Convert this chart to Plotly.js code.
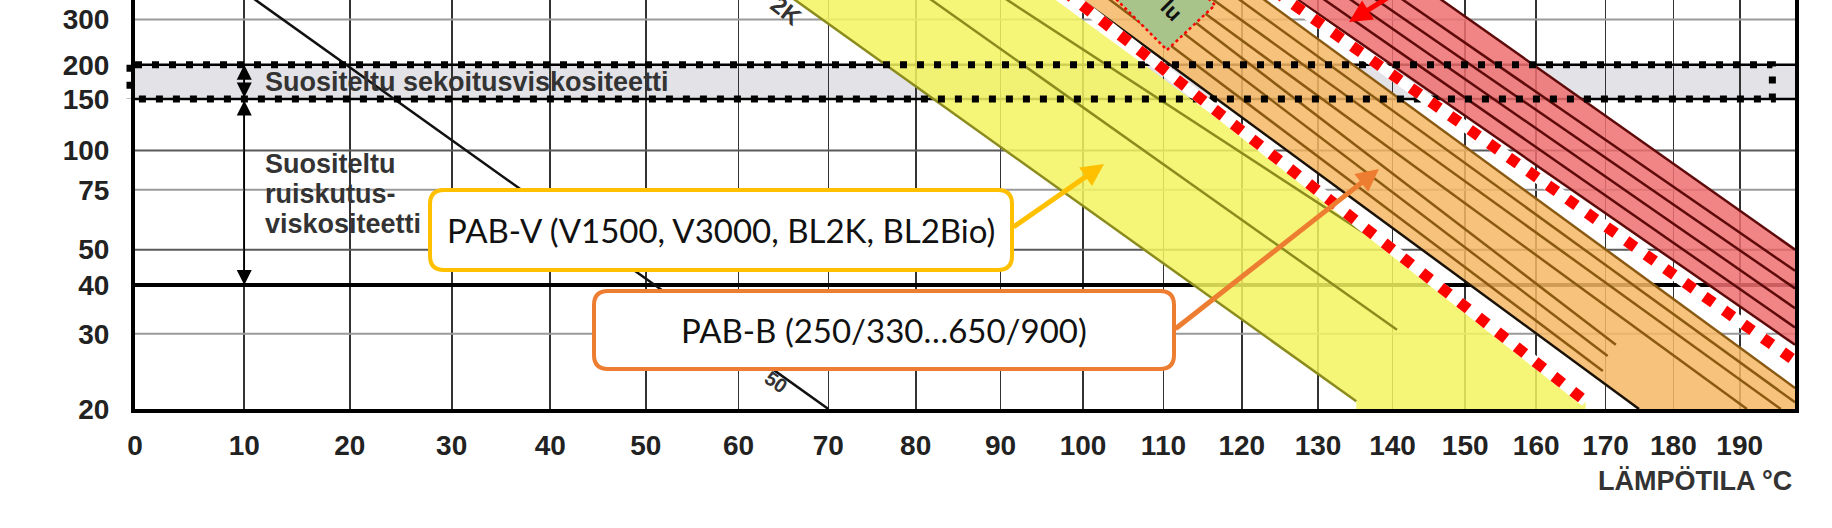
<!DOCTYPE html>
<html><head><meta charset="utf-8">
<script src="https://cdn.plot.ly/plotly-3.0.1.min.js"></script>
<style>
html,body{margin:0;padding:0;background:#fff;overflow:hidden;width:1832px;height:528px}
#chart{position:absolute;left:0;top:-30px;width:1832px;height:558px}
</style></head>
<body><div id="chart"></div>
<script>
// ---------- data: temperature (°C) and viscosity (mm²/s) ----------
const tempTicks = [0,10,20,30,40,50,60,70,80,90,100,110,120,130,140,150,160,170,180,190];
const viscTicks = [20,30,40,50,75,100,150,200,300,400];
const gridLight = [30,75,300];
const gridDark = [50,100];
const mixingBand = [150,200];
const sprayMin = 40;
const tempMin = 0, tempMax = 198.5, viscMin = 20;

// black reference curve
const refLineT = [10,70];
const refLineV = [390,20];

// PAB-V (yellow) band
const pabvFillT = [64.8,135.1,135.1,167.1,167.1,147.6,95.1];
const pabvFillV = [395,20.8,20,20,20.8,39.4,395];
const pabvLinesT = [[64.8,135.1],[80.3,140.6],[89.1,147.6]];
const pabvLinesV = [[395,20.8],[395,30.7],[395,39.4]];

// PAB-B (orange) band
const pabbFillT = [98.3,174.9,198.5,198.5,121.3];
const pabbFillV = [395,20,20,22.3,395];
const pabbEdgeT = [98.3,174.9];
const pabbEdgeV = [395,20];
const pabbLinesT = [[101.8,169.6],[105.5,170.3],[108.8,171.5],[111.3,191.1],[114.7,196.3],[118.1,198.5],[121.3,198.5]];
const pabbLinesV = [[395,24.4],[395,26.5],[395,28.2],[395,20],[395,20],[395,20.7],[395,22.3]];

// red band
const redFillT = [125.6,198.5,198.5,144.9];
const redFillV = [395,28.2,50,395];
const redLinesT = [[125.6,198.5],[129.1,198.5],[132.6,198.5],[136.0,198.5],[139.6,198.5],[144.9,198.5]];
const redLinesV = [[395,28.2],[395,31.1],[395,34.8],[395,39.2],[395,43.7],[395,50]];

// red dotted limit lines
const limitLinesT = [[97.6,167.1],[124.2,198.5]];
const limitLinesV = [[395,20.8],[395,25.8]];

// ---------- scales (Walther chart) ----------
const X = t => Math.log10(t + 273.15);
const Y = v => Math.log10(Math.log10(v + 0.7));

function segs(TT, VV){
  const x=[], y=[];
  TT.forEach((t,i)=>{ t.forEach((tt,j)=>{ x.push(X(tt)); y.push(Y(VV[i][j])); }); x.push(null); y.push(null); });
  return {x, y};
}
function poly(T, V){ return {x:T.map(X), y:V.map(Y)}; }

const traces = [];
function hlines(vals, color, width){
  const x=[], y=[];
  vals.forEach(v=>{ x.push(X(tempMin), X(tempMax), null); y.push(Y(v), Y(v), null); });
  traces.push({type:'scatter', mode:'lines', x, y, line:{color, width}, hoverinfo:'skip'});
}
hlines(gridLight, '#9a9a9a', 2);
hlines(gridDark, '#5a5a5a', 2);
hlines(mixingBand, '#000', 2.5);
hlines([sprayMin], '#000', 4);

const pf = poly(pabvFillT, pabvFillV);
traces.push({type:'scatter', mode:'lines', x:pf.x, y:pf.y, fill:'toself', fillcolor:'rgba(243,243,95,0.85)', line:{width:0}, hoverinfo:'skip'});
const of = poly(pabbFillT, pabbFillV);
traces.push({type:'scatter', mode:'lines', x:of.x, y:of.y, fill:'toself', fillcolor:'rgba(246,183,100,0.85)', line:{width:0}, hoverinfo:'skip'});
const rf = poly(redFillT, redFillV);
traces.push({type:'scatter', mode:'lines', x:rf.x, y:rf.y, fill:'toself', fillcolor:'rgba(238,112,112,0.85)', line:{width:0}, hoverinfo:'skip'});

const rl = poly(refLineT, refLineV);
traces.push({type:'scatter', mode:'lines', x:rl.x, y:rl.y, line:{color:'#111', width:2.5}, hoverinfo:'skip'});

const yl = segs(pabvLinesT, pabvLinesV);
traces.push({type:'scatter', mode:'lines', x:yl.x, y:yl.y, line:{color:'#8c8c1e', width:2.5}, hoverinfo:'skip'});
const ol = segs(pabbLinesT, pabbLinesV);
traces.push({type:'scatter', mode:'lines', x:ol.x, y:ol.y, line:{color:'#8a5a12', width:2.5}, hoverinfo:'skip'});
const oe = poly(pabbEdgeT, pabbEdgeV);
traces.push({type:'scatter', mode:'lines', x:oe.x, y:oe.y, line:{color:'#1a1206', width:2.5}, hoverinfo:'skip'});
const rdl = segs(redLinesT, redLinesV);
traces.push({type:'scatter', mode:'lines', x:rdl.x, y:rdl.y, line:{color:'#5e0a0a', width:2.5}, hoverinfo:'skip'});

traces.push({type:'scatter', mode:'lines',
  x:[X(tempMin), X(195), X(195), X(tempMin)],
  y:[Y(mixingBand[1]), Y(mixingBand[1]), Y(mixingBand[0]), Y(mixingBand[0])],
  line:{color:'#000', width:7, dash:'7px,10px'}, hoverinfo:'skip'});

const dl = segs(limitLinesT, limitLinesV);
traces.push({type:'scatter', mode:'lines', x:dl.x, y:dl.y, line:{color:'#fff', width:11}, hoverinfo:'skip'});
traces.push({type:'scatter', mode:'lines', x:dl.x, y:dl.y, line:{color:'#ff0000', width:11, dash:'11px,13px'}, hoverinfo:'skip'});

// ---------- layout helpers (page pixel -> paper) ----------
const PL=135, PW=1660, PB=409, PH=439;
const px = p => (p-PL)/PW;
const py = p => (PB-p)/PH;
function roundRect(x0,y0,x1,y1,r){
  const a=px(x0), b=px(x1), t=py(y0), u=py(y1), rx=r/PW, ry=r/PH;
  return `M ${a+rx},${t} L ${b-rx},${t} Q ${b},${t} ${b},${t-ry} L ${b},${u+ry} Q ${b},${u} ${b-rx},${u} L ${a+rx},${u} Q ${a},${u} ${a},${u+ry} L ${a},${t-ry} Q ${a},${t} ${a+rx},${t} Z`;
}
const scanFont = {family:'Liberation Sans, Arial, sans-serif', size:27, color:'#333', weight:700};
const boxFont = {family:'Lato, Calibri, sans-serif', size:33, color:'#111'};

const shapes = [
  {type:'rect', xref:'paper', yref:'y', x0:0, x1:1, y0:Y(mixingBand[0]), y1:Y(mixingBand[1]), fillcolor:'#e2e2e7', line:{width:0}, layer:'below'},
  {type:'line', xref:'paper', yref:'paper', x0:px(130), x1:px(130), y0:py(64.7), y1:py(99), line:{color:'#000', width:7, dash:'7px,10px'}, layer:'above'},
  {type:'path', xref:'paper', yref:'paper', path:`M ${px(1167)},${py(50)} L ${px(1215)},${py(5)} L ${px(1163)},${py(-45)} L ${px(1115)},${py(-2)} Z`,
   fillcolor:'#a9c48a', line:{color:'#ff0000', width:2.5, dash:'dot'}, layer:'above'},
  {type:'path', xref:'paper', yref:'paper', path:roundRect(430,190,1012,270,14), fillcolor:'#fff', line:{color:'#FFC000', width:4}, layer:'above'},
  {type:'path', xref:'paper', yref:'paper', path:roundRect(594,291,1174,369,14), fillcolor:'#fff', line:{color:'#ED7D31', width:4}, layer:'above'}
];

const annotations = [
  {xref:'paper', yref:'y', x:px(263), y:(Y(mixingBand[0])+Y(mixingBand[1]))/2, xanchor:'left', yanchor:'middle', text:'Suositeltu sekoitusviskositeetti', showarrow:false, font:scanFont},
  {xref:'paper', yref:'paper', x:px(263), y:py(164), xanchor:'left', yanchor:'middle', text:'Suositeltu', showarrow:false, font:scanFont},
  {xref:'paper', yref:'paper', x:px(263), y:py(194), xanchor:'left', yanchor:'middle', text:'ruiskutus-', showarrow:false, font:scanFont},
  {xref:'paper', yref:'paper', x:px(263), y:py(224), xanchor:'left', yanchor:'middle', text:'viskositeetti', showarrow:false, font:scanFont},
  {xref:'paper', yref:'paper', x:px(1794), y:py(481), xanchor:'right', yanchor:'middle', text:'LÄMPÖTILA °C', showarrow:false, font:scanFont},
  {xref:'x', yref:'y', axref:'x', ayref:'y', x:X(10), y:Y(mixingBand[1]), ax:X(10), ay:Y(mixingBand[0]), text:'', showarrow:true,
   arrowhead:2, startarrowhead:2, arrowside:'end+start', arrowsize:2, startarrowsize:2, arrowwidth:1.5, arrowcolor:'#000'},
  {xref:'x', yref:'y', axref:'x', ayref:'y', x:X(10), y:Y(sprayMin), ax:X(10), ay:Y(mixingBand[0]), text:'', showarrow:true,
   arrowhead:2, startarrowhead:2, arrowside:'end+start', arrowsize:2, startarrowsize:2, arrowwidth:1.5, arrowcolor:'#000'},
  {xref:'paper', yref:'paper', x:px(786), y:py(10), xanchor:'center', yanchor:'middle', text:'2K', textangle:38, showarrow:false, font:{family:'Liberation Sans, Arial', size:24, color:'#333', weight:700}},
  {xref:'paper', yref:'paper', x:px(776), y:py(382), xanchor:'center', yanchor:'middle', text:'50', textangle:35, showarrow:false, font:{family:'Liberation Sans, Arial', size:20, color:'#333', weight:700}},
  {xref:'paper', yref:'paper', x:px(1172), y:py(10), xanchor:'center', yanchor:'middle', text:'lu', textangle:45, showarrow:false, font:{family:'Liberation Sans, Arial', size:22, color:'#111', weight:700}},
  {xref:'paper', yref:'paper', x:px(721), y:py(230), xanchor:'center', yanchor:'middle', text:'PAB-V (V1500, V3000, BL2K, BL2Bio)', showarrow:false, font:boxFont},
  {xref:'paper', yref:'paper', x:px(884), y:py(330), xanchor:'center', yanchor:'middle', text:'PAB-B (250/330…650/900)', showarrow:false, font:boxFont},
  {xref:'paper', yref:'paper', x:px(1104), y:py(164), ax:1012-1104, ay:228-164, text:'', showarrow:true, arrowhead:2, arrowsize:0.9, arrowwidth:5, arrowcolor:'#FFC000'},
  {xref:'paper', yref:'paper', x:px(1379), y:py(169), ax:1174-1379, ay:330-169, text:'', showarrow:true, arrowhead:2, arrowsize:0.9, arrowwidth:5, arrowcolor:'#ED7D31'},
  {xref:'paper', yref:'paper', x:px(1349), y:py(22), ax:43, ay:-27, text:'', showarrow:true, arrowhead:2, arrowsize:0.9, arrowwidth:5, arrowcolor:'#ff0000'}
];

const tickFont = {family:'Liberation Sans, Arial, sans-serif', size:28, color:'#222', weight:700};
const layout = {
  width:1832, height:558,
  margin:{l:135, r:37, t:0, b:119},
  paper_bgcolor:'#fff', plot_bgcolor:'#fff',
  showlegend:false, hovermode:false,
  xaxis:{range:[X(tempMin), X(tempMax)], tickmode:'array', tickvals:tempTicks.map(X), ticktext:tempTicks.map(String),
         showgrid:true, gridcolor:'#333', gridwidth:1.7, zeroline:false, ticks:'', ticklabelstandoff:8,
         showline:true, linecolor:'#000', linewidth:4, mirror:true, tickfont:tickFont, fixedrange:true},
  yaxis:{range:[Y(viscMin), 0.42908], tickmode:'array', tickvals:viscTicks.map(Y), ticktext:viscTicks.map(String),
         showgrid:false, zeroline:false, ticks:'', ticklabelstandoff:16,
         showline:true, linecolor:'#000', linewidth:4, mirror:true, tickfont:tickFont, fixedrange:true},
  shapes, annotations
};
Plotly.newPlot('chart', traces, layout, {staticPlot:true, displayModeBar:false});
</script></body></html>
